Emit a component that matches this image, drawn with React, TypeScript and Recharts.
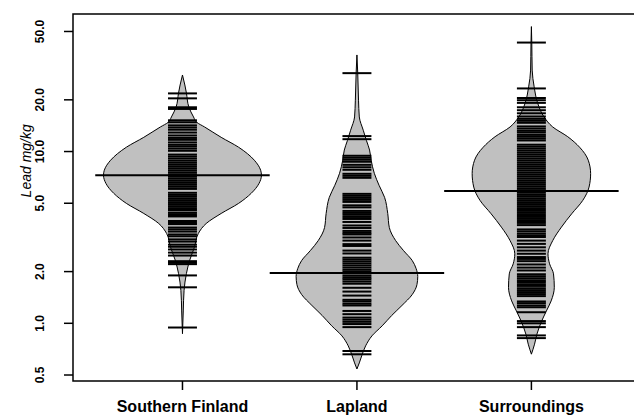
import React from 'react'
import { ComposedChart, Area, XAxis, YAxis, ReferenceLine, ReferenceArea, Label } from 'recharts'

const GROUPS = ['Southern Finland', 'Lapland', 'Surroundings']
const Y_TICKS = [0.5, 1, 2, 5, 10, 20, 50]
const MEDIANS = [7.27, 1.96, 5.89]

// bean outlines: level (mg/kg) and relative density at that level
const SF_LEVELS = [27.9, 24.4, 21.9, 18.2, 15.9, 14.8, 13.9, 12.1, 10.6, 8.9, 7.78, 7.27, 6.53, 5.71, 4.99, 4.36, 3.81, 3.33, 2.76, 2.32, 1.95, 1.55, 1.18, 0.87]
const SF_DENSITY = [0, 0.03, 0.05, 0.08, 0.14, 0.18, 0.28, 0.49, 0.71, 0.91, 0.99, 1.0, 0.97, 0.87, 0.71, 0.49, 0.3, 0.2, 0.15, 0.09, 0.05, 0.02, 0.01, 0]

const LAP_LEVELS = [36.5, 28.7, 19.9, 15.9, 13.3, 11.6, 10.2, 8.9, 7.47, 6.36, 5.41, 4.36, 3.61, 3.03, 2.65, 2.32, 2.08, 1.87, 1.68, 1.47, 1.27, 1.11, 0.967, 0.845, 0.739, 0.646, 0.588, 0.542]
const LAP_DENSITY = [0, 0.01, 0.02, 0.03, 0.08, 0.12, 0.16, 0.18, 0.22, 0.28, 0.35, 0.39, 0.41, 0.49, 0.59, 0.7, 0.75, 0.77, 0.76, 0.7, 0.57, 0.44, 0.32, 0.19, 0.11, 0.06, 0.03, 0]

const SUR_LEVELS = [53.4, 43.1, 29.8, 23.8, 19.1, 15.9, 13.9, 12.2, 10.6, 8.9, 7.44, 6.21, 5.19, 4.34, 3.63, 3.03, 2.54, 2.22, 1.94, 1.62, 1.35, 1.18, 1.03, 0.865, 0.756, 0.661]
const SUR_DENSITY = [0, 0.005, 0.01, 0.035, 0.08, 0.16, 0.27, 0.46, 0.61, 0.72, 0.75, 0.73, 0.65, 0.51, 0.38, 0.27, 0.21, 0.23, 0.28, 0.29, 0.25, 0.19, 0.13, 0.07, 0.04, 0]

// individual observations (bean lines)
const SF_OBS = [21.8, 20.4, 18.1, 17.7, 15.2, 14.8, 14.2, 13.8, 13.4, 12.9, 12.4, 12.0, 11.7, 11.3, 10.95, 10.7, 10.4, 10.1, 9.6, 9.35, 9.1, 8.84, 8.6, 8.37, 8.15, 7.94, 7.73, 7.52, 7.32, 7.13, 6.94, 6.75, 6.57, 6.4, 6.23, 6.06, 5.75, 5.59, 5.45, 5.3, 5.16, 5.02, 4.89, 4.76, 4.63, 4.54, 4.39, 4.27, 4.19, 3.94, 3.84, 3.78, 3.61, 3.52, 3.42, 3.29, 3.21, 3.08, 2.99, 2.87, 2.79, 2.69, 2.58, 2.48, 2.3, 2.25, 2.21, 1.9, 1.62, 0.945]

const LAP_OBS = [28.6, 12.3, 11.8, 9.45, 9.2, 8.96, 8.72, 8.37, 8.1, 7.83, 7.42, 7.22, 7.03, 5.67, 5.52, 5.37, 5.23, 5.09, 4.86, 4.73, 4.51, 4.39, 4.28, 4.16, 4.05, 3.89, 3.71, 3.59, 3.45, 3.36, 3.29, 3.16, 3.03, 2.89, 2.82, 2.65, 2.55, 2.41, 2.35, 2.29, 2.23, 2.17, 2.11, 2.05, 2.0, 1.95, 1.89, 1.84, 1.8, 1.75, 1.7, 1.61, 1.53, 1.45, 1.37, 1.34, 1.3, 1.27, 1.18, 1.13, 1.08, 1.05, 1.02, 0.99, 0.95, 0.69, 0.66]

const SUR_OBS = [43.1, 23.3, 20.5, 19.9, 19.2, 18.1, 17.4, 16.7, 16.0, 15.5, 15.1, 14.7, 14.0, 13.6, 13.2, 12.9, 12.5, 12.2, 11.9, 11.6, 10.96, 10.67, 10.39, 10.11, 9.84, 9.58, 9.33, 9.08, 8.84, 8.6, 8.37, 8.15, 7.94, 7.73, 7.52, 7.32, 7.13, 6.94, 6.75, 6.57, 6.4, 6.23, 6.06, 5.9, 5.75, 5.59, 5.45, 5.3, 5.16, 5.02, 4.89, 4.76, 4.63, 4.51, 4.39, 4.27, 4.16, 4.05, 3.94, 3.84, 3.73, 3.52, 3.43, 3.33, 3.25, 3.18, 3.03, 2.9, 2.77, 2.65, 2.54, 2.43, 2.37, 2.3, 2.2, 2.11, 2.03, 1.93, 1.88, 1.83, 1.78, 1.74, 1.69, 1.65, 1.6, 1.56, 1.52, 1.48, 1.44, 1.34, 1.31, 1.27, 1.24, 1.16, 1.03, 1.0, 0.95, 0.85, 0.82]

const X_DOMAIN = [0.3725, 3.6225]
const Y_DOMAIN = [0.4614, 63.2]
const BEAN_SCALE = 0.4527
const LINE_HALF = 0.083
const MEDIAN_HALF = 0.5
const FONT = '"Liberation Sans", Arial, Helvetica, sans-serif'

const beans = [
  { levels: SF_LEVELS, density: SF_DENSITY, obs: SF_OBS },
  { levels: LAP_LEVELS, density: LAP_DENSITY, obs: LAP_OBS },
  { levels: SUR_LEVELS, density: SUR_DENSITY, obs: SUR_OBS },
]

function beanRows(i: number) {
  const c = i + 1
  const b = beans[i]
  return b.levels.map((v, k) => ({
    value: v,
    range: [c - b.density[k] * BEAN_SCALE, c + b.density[k] * BEAN_SCALE],
  }))
}

function YTick({ x, y, payload }: any) {
  return (
    <text
      x={x}
      y={y}
      transform={`rotate(-90 ${x} ${y})`}
      textAnchor="middle"
      fontSize={12}
      fontWeight="bold"
      fontFamily={FONT}
      fill="#000"
    >
      {Number(payload.value).toFixed(1)}
    </text>
  )
}

function YLabel({ viewBox }: any) {
  const x = viewBox.x + 31
  const y = viewBox.y + viewBox.height * 0.4
  return (
    <text
      x={x}
      y={y}
      transform={`rotate(-90 ${x} ${y})`}
      textAnchor="middle"
      fontSize={14}
      fontStyle="italic"
      fontFamily={FONT}
      fill="#000"
    >
      Lead mg/kg
    </text>
  )
}

export default function App() {
  return (
    <div style={{ position: 'fixed', left: 0, top: 0, width: 634, height: 418, overflow: 'hidden', background: '#fff' }}>
      <ComposedChart width={660} height={418} layout="vertical" margin={{ top: 14, right: 20, bottom: 0, left: 0 }}>
        <XAxis
          type="number"
          domain={X_DOMAIN}
          allowDataOverflow
          ticks={[1, 2, 3]}
          tickFormatter={(v) => GROUPS[v - 1]}
          axisLine={false}
          tickLine={{ stroke: '#000', strokeWidth: 1.5 }}
          tickSize={9}
          tickMargin={11}
          height={37}
          tick={{ fontSize: 16, fontWeight: 'bold', fill: '#000', fontFamily: FONT }}
          interval={0}
        />
        <YAxis
          type="number"
          dataKey="value"
          scale="log"
          reversed
          domain={Y_DOMAIN}
          allowDataOverflow
          ticks={Y_TICKS}
          axisLine={false}
          tickLine={{ stroke: '#000', strokeWidth: 1.5 }}
          tickSize={9}
          tickMargin={20}
          width={73}
          tick={<YTick />}
          interval={0}
        >
          <Label content={<YLabel />} />
        </YAxis>
        {beans.map((_, i) => (
          <Area
            key={`bean-${i}`}
            data={beanRows(i)}
            dataKey="range"
            type="monotone"
            fill="#c0c0c0"
            fillOpacity={1}
            stroke="#000"
            strokeWidth={1}
            isAnimationActive={false}
            dot={false}
            activeDot={false}
          />
        ))}
        {beans.map((b, i) =>
          b.obs.map((v, k) => (
            <ReferenceLine
              key={`obs-${i}-${k}`}
              segment={[{ x: i + 1 - LINE_HALF, y: v }, { x: i + 1 + LINE_HALF, y: v }]}
              stroke="#000"
              strokeWidth={2}
            />
          ))
        )}
        {MEDIANS.map((m, i) => (
          <ReferenceLine
            key={`med-${i}`}
            segment={[{ x: i + 1 - MEDIAN_HALF, y: m }, { x: i + 1 + MEDIAN_HALF, y: m }]}
            stroke="#000"
            strokeWidth={2}
          />
        ))}
        <ReferenceArea
          x1={X_DOMAIN[0]}
          x2={X_DOMAIN[1]}
          y1={Y_DOMAIN[0]}
          y2={Y_DOMAIN[1]}
          fill="none"
          stroke="#000"
          strokeWidth={1.5}
          ifOverflow="visible"
        />
      </ComposedChart>
    </div>
  )
}
